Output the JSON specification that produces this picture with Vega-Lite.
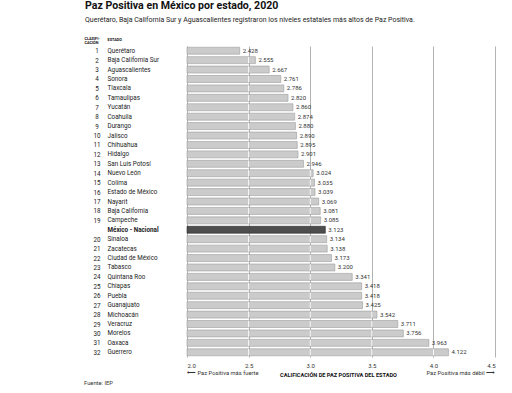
{
  "$schema": "https://vega.github.io/schema/vega-lite/v6.json",
  "width": 308,
  "height": 311,
  "autosize": "none",
  "padding": {"left": 187, "top": 46, "right": 17, "bottom": 36},
  "background": "white",
  "config": {"view": {"stroke": null}, "font": "Roboto"},
  "title": {
    "text": "Paz Positiva en México por estado, 2020",
    "subtitle": "Querétaro, Baja California Sur y Aguascalientes registraron los niveles estatales más altos de Paz Positiva.",
    "anchor": "start",
    "frame": "group",
    "dx": -102,
    "offset": 14,
    "font": "Roboto",
    "fontSize": 10.6,
    "fontWeight": "bold",
    "color": "#111111",
    "subtitleFont": "Roboto",
    "subtitleFontSize": 7,
    "subtitleColor": "#222222",
    "subtitlePadding": 4
  },
  "data": {
    "values": [
      {"clasif": "1", "estado": "Querétaro", "valor": 2.428},
      {"clasif": "2", "estado": "Baja California Sur", "valor": 2.555},
      {"clasif": "3", "estado": "Aguascalientes", "valor": 2.667},
      {"clasif": "4", "estado": "Sonora", "valor": 2.761},
      {"clasif": "5", "estado": "Tlaxcala", "valor": 2.786},
      {"clasif": "6", "estado": "Tamaulipas", "valor": 2.820},
      {"clasif": "7", "estado": "Yucatán", "valor": 2.860},
      {"clasif": "8", "estado": "Coahuila", "valor": 2.874},
      {"clasif": "9", "estado": "Durango", "valor": 2.880},
      {"clasif": "10", "estado": "Jalisco", "valor": 2.890},
      {"clasif": "11", "estado": "Chihuahua", "valor": 2.895},
      {"clasif": "12", "estado": "Hidalgo", "valor": 2.901},
      {"clasif": "13", "estado": "San Luis Potosí", "valor": 2.946},
      {"clasif": "14", "estado": "Nuevo León", "valor": 3.024},
      {"clasif": "15", "estado": "Colima", "valor": 3.035},
      {"clasif": "16", "estado": "Estado de México", "valor": 3.039},
      {"clasif": "17", "estado": "Nayarit", "valor": 3.069},
      {"clasif": "18", "estado": "Baja California", "valor": 3.081},
      {"clasif": "19", "estado": "Campeche", "valor": 3.085},
      {"clasif": " ", "estado": "México - Nacional", "valor": 3.123},
      {"clasif": "20", "estado": "Sinaloa", "valor": 3.134},
      {"clasif": "21", "estado": "Zacatecas", "valor": 3.138},
      {"clasif": "22", "estado": "Ciudad de México", "valor": 3.173},
      {"clasif": "23", "estado": "Tabasco", "valor": 3.200},
      {"clasif": "24", "estado": "Quintana Roo", "valor": 3.341},
      {"clasif": "25", "estado": "Chiapas", "valor": 3.418},
      {"clasif": "26", "estado": "Puebla", "valor": 3.418},
      {"clasif": "27", "estado": "Guanajuato", "valor": 3.425},
      {"clasif": "28", "estado": "Michoacán", "valor": 3.542},
      {"clasif": "29", "estado": "Veracruz", "valor": 3.711},
      {"clasif": "30", "estado": "Morelos", "valor": 3.756},
      {"clasif": "31", "estado": "Oaxaca", "valor": 3.963},
      {"clasif": "32", "estado": "Guerrero", "valor": 4.122}
    ]
  },
  "resolve": {"scale": {"y": "independent"}},
  "layer": [
    {
      "layer": [
        {
          "mark": {"type": "bar", "strokeWidth": 0.6},
          "encoding": {
            "y": {
              "field": "estado", "type": "nominal", "sort": null,
              "scale": {"paddingInner": 0.26, "paddingOuter": 0.13},
              "axis": {
                "orient": "left", "domain": false, "ticks": false, "tickSize": 0, "grid": false,
                "labelAlign": "left", "labelPadding": 80, "labelFontSize": 6.3, "labelColor": "#222222",
                "labelBaseline": "middle",
                "labelFontWeight": {"condition": {"test": "datum.value == 'México - Nacional'", "value": "bold"}, "value": "normal"},
                "title": "ESTADO", "titleAngle": 0, "titleX": -80, "titleY": -5.8, "titleAlign": "left",
                "titleBaseline": "alphabetic", "titleFontSize": 3.8, "titleFontWeight": "bold", "titleColor": "#111111"
              }
            },
            "x": {
              "field": "valor", "type": "quantitative",
              "scale": {"domain": [2, 4.5], "zero": false, "nice": false},
              "axis": {
                "values": [2, 2.5, 3, 3.5, 4, 4.5], "format": ".1f", "domain": false, "ticks": false,
                "grid": true, "gridColor": "#a0a0a0", "gridWidth": 0.8,
                "labelFontSize": 6, "labelColor": "#333333", "labelPadding": 5,
                "title": "CALIFICACIÓN DE PAZ POSITIVA DEL ESTADO", "titleFontSize": 5.6, "titleFontWeight": "bold",
                "titleColor": "#111111", "titlePadding": 4, "titleX": 151
              }
            },
            "x2": {"datum": 2},
            "fill": {"condition": {"test": "datum.estado == 'México - Nacional'", "value": "#4d4d4d"}, "value": "#cbcbcb"},
            "stroke": {"condition": {"test": "datum.estado == 'México - Nacional'", "value": "#2e2e2e"}, "value": "#9c9c9c"}
          }
        },
        {
          "transform": [{"filter": "datum.valor > 2.5 && datum.estado != 'México - Nacional'"}],
          "mark": {"type": "tick", "color": "white", "thickness": 0.8, "size": 6.4, "opacity": 1},
          "encoding": {"x": {"datum": 2.5, "type": "quantitative"}, "y": {"field": "estado", "type": "nominal", "sort": null}}
        },
        {
          "transform": [{"filter": "datum.valor > 3 && datum.estado != 'México - Nacional'"}],
          "mark": {"type": "tick", "color": "white", "thickness": 0.8, "size": 6.4, "opacity": 1},
          "encoding": {"x": {"datum": 3, "type": "quantitative"}, "y": {"field": "estado", "type": "nominal", "sort": null}}
        },
        {
          "transform": [{"filter": "datum.valor > 3.5"}],
          "mark": {"type": "tick", "color": "white", "thickness": 0.8, "size": 6.4, "opacity": 1},
          "encoding": {"x": {"datum": 3.5, "type": "quantitative"}, "y": {"field": "estado", "type": "nominal", "sort": null}}
        },
        {
          "transform": [{"filter": "datum.valor > 4"}],
          "mark": {"type": "tick", "color": "white", "thickness": 0.8, "size": 6.4, "opacity": 1},
          "encoding": {"x": {"datum": 4, "type": "quantitative"}, "y": {"field": "estado", "type": "nominal", "sort": null}}
        },
        {
          "transform": [{"filter": "datum.estado == 'Guerrero'"}],
          "mark": {"type": "text", "align": "left", "baseline": "middle", "dy": 21, "fontSize": 5.8, "color": "#333333", "text": "⟵  Paz Positiva más fuerte"},
          "encoding": {"x": {"datum": 2, "type": "quantitative"}, "y": {"field": "estado", "type": "nominal", "sort": null}}
        },
        {
          "transform": [{"filter": "datum.estado == 'Guerrero'"}],
          "mark": {"type": "text", "align": "right", "baseline": "middle", "dy": 21, "fontSize": 5.8, "color": "#333333", "text": "Paz Positiva más débil  ⟶"},
          "encoding": {"x": {"datum": 4.5, "type": "quantitative"}, "y": {"field": "estado", "type": "nominal", "sort": null}}
        },
        {
          "transform": [{"filter": "datum.estado == 'Guerrero'"}],
          "mark": {"type": "text", "align": "left", "baseline": "middle", "dx": -103, "dy": 31, "fontSize": 5.8, "color": "#333333", "text": "Fuente: IEP"},
          "encoding": {"x": {"datum": 2, "type": "quantitative"}, "y": {"field": "estado", "type": "nominal", "sort": null}}
        }
      ]
    },
    {
      "mark": {"type": "text", "align": "left", "baseline": "middle", "dx": 3, "fontSize": 6, "color": "#333333"},
      "encoding": {
        "x": {"field": "valor", "type": "quantitative"},
        "text": {"field": "valor", "type": "quantitative", "format": ".3f"},
        "y": {
          "field": "clasif", "type": "nominal", "sort": null,
          "scale": {"paddingInner": 0.26, "paddingOuter": 0.13},
          "axis": {
            "orient": "left", "domain": false, "ticks": false, "tickSize": 0, "grid": false,
            "labelAlign": "center", "labelPadding": 90.5, "labelFontSize": 6.3, "labelColor": "#222222",
            "labelBaseline": "middle",
            "title": ["CLASIFI-", "CACIÓN"], "titleAngle": 0, "titleX": -103, "titleY": -6.2, "titleAlign": "left",
            "titleBaseline": "alphabetic", "titleFontSize": 3.8, "titleFontWeight": "bold", "titleColor": "#111111",
            "titleLineHeight": 3.8
          }
        }
      }
    }
  ]
}
